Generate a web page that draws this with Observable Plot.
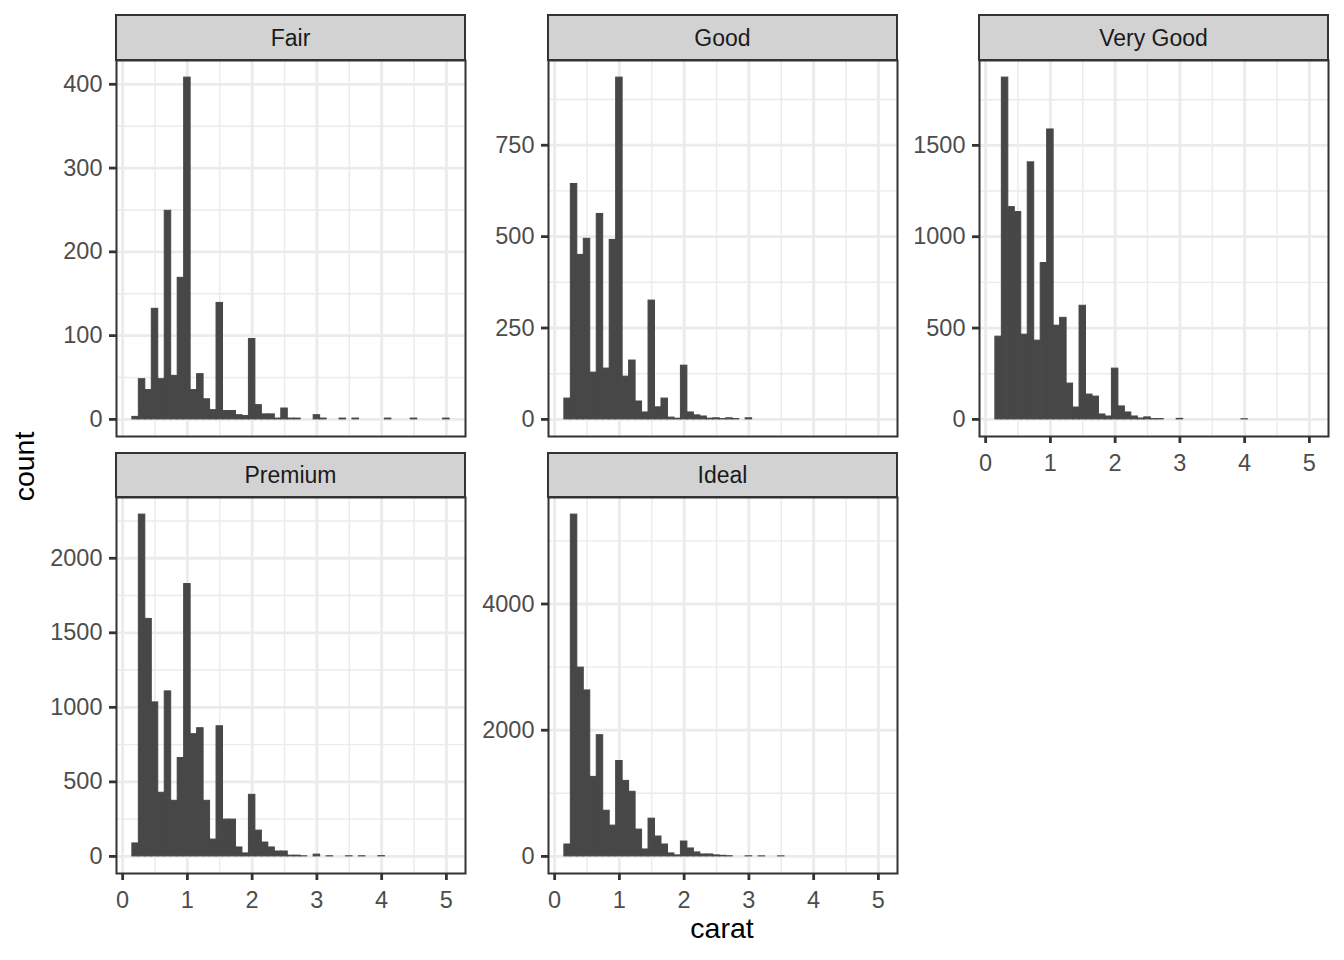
<!DOCTYPE html>
<html>
<head>
<meta charset="utf-8">
<script src="https://cdn.jsdelivr.net/npm/d3@7"></script>
<script src="https://cdn.jsdelivr.net/npm/@observablehq/plot@0.6"></script>
<style>
  html, body { margin: 0; padding: 0; background: #fff; }
  #chart { position: relative; width: 1344px; height: 960px; background: #fff; overflow: hidden; }
  #chart svg { position: absolute; }
</style>
</head>
<body>
<div id="chart"></div>
<script>
// ---- data ----
const cuts = ["Fair", "Good", "Very Good", "Premium", "Ideal"];
const binWidth = 0.1;
const carat = [0.2,0.3,0.4,0.5,0.6,0.7,0.8,0.9,1.0,1.1,1.2,1.3,1.4,1.5,1.6,1.7,1.8,1.9,2.0,2.1,2.2,2.3,2.4,2.5,2.6,2.7,2.8,2.9,3.0,3.1,3.2,3.3,3.4,3.5,3.6,3.7,3.8,3.9,4.0,4.1,4.2,4.3,4.4,4.5,4.6,4.7,4.8,4.9,5.0];
const fairCounts    = [3,48,35,132,48,249,52,169,408,35,54,24,11,139,10,10,5,4,96,17,6,6,1,13,1,1,0,0,5,1,0,0,1,0,1,0,0,0,0,1,0,0,0,1,0,0,0,0,1];
const goodCounts    = [57,644,450,494,128,562,139,491,935,117,161,49,19,325,33,57,5,2,147,19,11,8,2,3,1,3,1,0,3,0,0,0,0,0,0,0,0,0,0,0,0,0,0,0,0,0,0,0,0];
const veryGoodCounts= [453,1871,1162,1135,464,1407,431,856,1587,513,556,196,65,622,136,125,27,16,278,71,38,16,5,11,2,2,0,0,3,0,0,0,0,0,0,0,0,0,1,0,0,0,0,0,0,0,0,0,0];
const premiumCounts = [87,2293,1593,1033,427,1107,373,660,1827,820,860,373,113,873,247,247,60,20,413,173,93,60,33,33,5,5,1,0,12,0,1,0,0,1,0,1,0,0,2,0,0,0,0,0,0,0,0,0,0];
const idealCounts   = [189,5417,2992,2630,1260,1921,724,488,1512,1197,1024,425,110,598,315,189,47,16,236,126,63,31,31,16,10,3,0,0,2,0,1,0,0,1,0,0,0,0,0,0,0,0,0,0,0,0,0,0,0];

const xTicks = [0, 1, 2, 3, 4, 5];
const xMinor = [0.5, 1.5, 2.5, 3.5, 4.5];
const fairTicks = [0, 100, 200, 300, 400];
const fairMinor = [50, 150, 250, 350];
const goodTicks = [0, 250, 500, 750];
const goodMinor = [125, 375, 625, 875];
const veryGoodTicks = [0, 500, 1000, 1500];
const veryGoodMinor = [250, 750, 1250, 1750];
const premiumTicks = [0, 500, 1000, 1500, 2000];
const premiumMinor = [250, 750, 1250, 1750, 2250];
const idealTicks = [0, 2000, 4000];
const idealMinor = [1000, 3000, 5000];

const xLabel = "carat";
const yLabel = "count";

// ---- layout ----
const FONT = "'Liberation Sans', Arial, Helvetica, sans-serif";
const PW = 349, PH = 376;
const ML = 80, MR = 6, MT = 6, MB = 60;
const panels = [
  {name: cuts[0], counts: fairCounts, ticks: fairTicks, minor: fairMinor, left: 116, top: 60, showX: false},
  {name: cuts[1], counts: goodCounts, ticks: goodTicks, minor: goodMinor, left: 548, top: 60, showX: false},
  {name: cuts[2], counts: veryGoodCounts, ticks: veryGoodTicks, minor: veryGoodMinor, left: 979, top: 60, showX: true},
  {name: cuts[3], counts: premiumCounts, ticks: premiumTicks, minor: premiumMinor, left: 116, top: 497, showX: true},
  {name: cuts[4], counts: idealCounts, ticks: idealTicks, minor: idealMinor, left: 548, top: 497, showX: true}
];

const chart = document.getElementById("chart");
const fmt = d => String(d);

for (const p of panels) {
  const m = d3.max(p.counts);
  const rows = carat.map((c, i) => ({x1: c - binWidth / 2, x2: c + binWidth / 2, count: p.counts[i]}))
                    .filter(d => d.count > 0);
  const marks = [
    Plot.ruleX(xMinor, {stroke: "#EBEBEB", strokeWidth: 1.4}),
    Plot.ruleY(p.minor, {stroke: "#EBEBEB", strokeWidth: 1.4}),
    Plot.ruleX(xTicks, {stroke: "#EBEBEB", strokeWidth: 2.8}),
    Plot.ruleY(p.ticks, {stroke: "#EBEBEB", strokeWidth: 2.8}),
    Plot.rectY(rows, {x1: "x1", x2: "x2", y: "count", fill: "#474747", stroke: "#474747", strokeWidth: 1, inset: 0}),
    Plot.frame({stroke: "#333333", strokeWidth: 2}),
    Plot.axisY({ticks: p.ticks, tickFormat: fmt, tickSize: 7, tickPadding: 7, stroke: "#333333", strokeWidth: 2.8, fill: "#4D4D4D", label: null, fontSize: 23.5})
  ];
  if (p.showX) {
    marks.push(Plot.axisX({ticks: xTicks, tickFormat: fmt, tickSize: 7, tickPadding: 11, stroke: "#333333", strokeWidth: 2.8, fill: "#4D4D4D", label: null, fontSize: 23.5}));
  }
  const svg = Plot.plot({
    width: ML + PW + MR,
    height: MT + PH + MB,
    marginLeft: ML, marginRight: MR, marginTop: MT, marginBottom: MB,
    x: {domain: [-0.095, 5.295], label: null, axis: p.showX ? undefined : null},
    y: {domain: [-0.05 * m, 1.05 * m], label: null},
    style: {fontFamily: FONT, fontSize: "23.5px", background: "transparent", overflow: "visible", maxWidth: "none"},
    marks
  });
  svg.style.left = (p.left - ML) + "px";
  svg.style.top = (p.top - MT) + "px";
  chart.appendChild(svg);
}

// ---- strips and axis titles (overlay) ----
const overlay = d3.create("svg")
  .attr("width", 1344).attr("height", 960)
  .style("left", "0px").style("top", "0px")
  .style("pointer-events", "none")
  .style("font-family", FONT);

for (const p of panels) {
  const sTop = p.top === 60 ? 15 : 453;
  const sH = p.top - sTop;
  overlay.append("rect")
    .attr("x", p.left).attr("y", sTop).attr("width", PW).attr("height", sH)
    .attr("fill", "#D2D2D2").attr("stroke", "#333333").attr("stroke-width", 2);
  overlay.append("text")
    .attr("x", p.left + PW / 2).attr("y", sTop + sH / 2).attr("dy", "0.35em")
    .attr("text-anchor", "middle").attr("fill", "#1A1A1A").attr("font-size", 23)
    .text(p.name);
}

overlay.append("text")
  .attr("x", 722).attr("y", 938).attr("text-anchor", "middle")
  .attr("font-size", 28.5).attr("fill", "#000").text(xLabel);

overlay.append("text")
  .attr("transform", "translate(33.5,466.5) rotate(-90)")
  .attr("text-anchor", "middle")
  .attr("font-size", 28.5).attr("fill", "#000").text(yLabel);

chart.appendChild(overlay.node());
</script>
</body>
</html>
